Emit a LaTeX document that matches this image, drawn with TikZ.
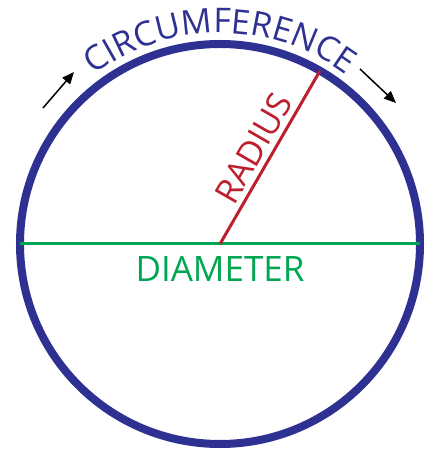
\documentclass[tikz,border=0pt]{standalone}
\usepackage{fontspec}
\setmainfont{Open Sans}
\usetikzlibrary{arrows.meta,decorations.text}

\definecolor{circblue}{RGB}{46,49,146}
\definecolor{radred}{RGB}{190,30,45}
\definecolor{diagreen}{RGB}{0,166,81}

\tikzset{
  rim/.style={circblue, line width=8pt},
  radline/.style={radred, line width=3pt},
  dialine/.style={diagreen, line width=3pt},
  turn/.style={-{Triangle[length=12pt,width=10pt]}, line width=1.5pt},
  lbl/.style={inner sep=0pt, font=\fontsize{#1}{#1}\selectfont},
}

\begin{document}
\begin{tikzpicture}[x=1pt, y=1pt]
  \useasboundingbox (0,0) rectangle (434,449);
  \coordinate (O) at (220,205);
  \draw[rim] (O) circle (200);
  % diameter
  \path (O) ++(180:200) coordinate (W);
  \path (O) ++(0:200) coordinate (E);
  \draw[dialine] (W) -- (E) node[midway, below=11pt, lbl=35, diagreen] (dialbl) {DIAMETER};
  % radius
  \path (O) ++(60:200) coordinate (T);
  \draw[radline] (O) -- (T) node[midway, sloped, above=5pt, lbl=34, radred] (radlbl) {RADIUS};
  % circumference
  \path[decorate, decoration={text along path, text align=center,
      text={|\fontsize{34}{34}\selectfont\color{circblue}|CIRCUMFERENCE}}]
    (O) ++(150:211) arc[start angle=150, end angle=30, radius=211];
  \coordinate (lt) at (43,341); \coordinate (lh) at (74,377);
  \coordinate (rt) at (360,380); \coordinate (rh) at (396,346);
  \draw[turn] (lt) -- (lh);
  \draw[turn] (rt) -- (rh);
\end{tikzpicture}
\end{document}
